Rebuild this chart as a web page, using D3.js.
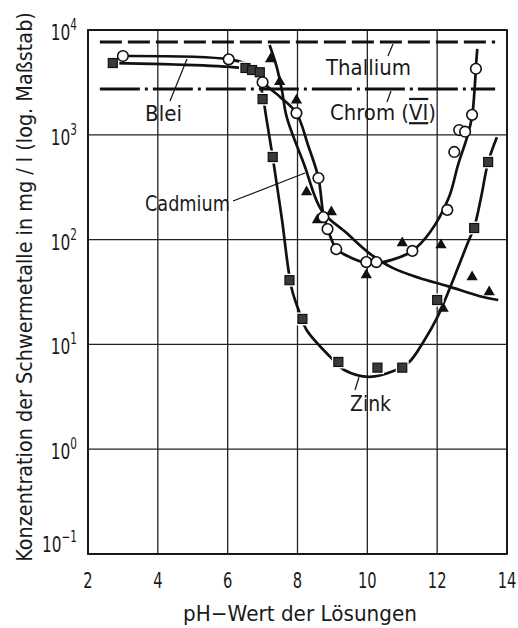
<!DOCTYPE html>
<html><head><meta charset="utf-8">
<script src="https://cdn.jsdelivr.net/npm/d3@7"></script>
<style>body{margin:0;background:#fff}svg{display:block}text{font-family:"DejaVu Sans",sans-serif;fill:#1a1a1a}</style>
</head><body><svg id="c" width="518" height="628"></svg>
<script>
// ---- data (pH, concentration mg/l) ----
const xTicks = [2,4,6,8,10,12,14];
const yTicks = [0.1,1,10,100,1000,10000];
const yTickExp = ["−1","0","1","2","3","4"];

const bleiPoints = [[3,5650],[6.03,5250],[7.0,3170],[7.97,1610],[8.6,387],[8.74,164],[8.86,126],[9.11,81],[9.97,61],[10.26,61],[11.29,78],[12.29,192],[12.49,686],[12.63,1110],[12.8,1070],[13.0,1550],[13.11,4270]];
const bleiCurve = [[3,5650],[6.03,5250],[6.6,4600],[7.0,3170],[7.5,2300],[7.97,1610],[8.3,800],[8.6,387],[8.74,175],[8.86,128],[9.11,82],[9.5,68],[10.1,59],[10.7,64],[11.29,78],[11.8,118],[12.34,255],[12.6,520],[12.86,955],[13.0,1500],[13.08,3000],[13.12,5000],[13.15,6600]];

const cadmiumPoints = [[7.23,5300],[7.49,3200],[7.97,2140],[8.26,284],[8.57,154],[8.97,183],[9.97,46],[11.0,93],[12.11,89],[12.17,22],[13.0,44],[13.49,31.6]];
const cadmiumCurve = [[7.2,7200],[7.4,4500],[7.55,2700],[7.69,1480],[8.2,510],[8.69,190],[9.4,116],[10.06,74],[10.71,54],[11.49,43],[12.3,36],[13.2,29],[13.75,26.5]];

const zinkPoints = [[2.71,4840],[6.51,4340],[6.7,4150],[6.92,3950],[7.0,2190],[7.29,614],[7.77,41],[8.14,17.5],[9.17,6.8],[10.29,6.0],[11.0,6.0],[12.0,26.5],[13.06,129],[13.46,550]];
const zinkCurve = [[2.71,4840],[6.51,4300],[6.8,4000],[6.98,2600],[7.1,1500],[7.29,614],[7.55,160],[7.83,34.5],[8.06,20],[8.26,13.7],[8.97,7.4],[9.34,5.7],[10.06,4.9],[10.71,5.5],[11.2,6.8],[11.6,10.5],[12.0,18],[12.29,30],[12.91,99],[13.06,130],[13.26,255],[13.46,550],[13.71,950]];

const thalliumLevel = 7670, thalliumRange = [2.34,13.66];
const chromLevel = 2735, chromRange = [2.34,13.66];

// ---- layout ----
const svg = d3.select("#c");
const L=88,R=507,T=30,B=554;
const x = d3.scaleLinear().domain([2,14]).range([L,R]);
const y = d3.scaleLog().domain([0.1,1e4]).range([B,T]);

// grid
const g = svg.append("g");
g.selectAll(".vg").data(xTicks).join("line")
  .attr("x1",d=>x(d)).attr("x2",d=>x(d)).attr("y1",T).attr("y2",B)
  .attr("stroke","#222").attr("stroke-width",1.3);
g.selectAll(".hg").data(yTicks).join("line")
  .attr("x1",L).attr("x2",R).attr("y1",d=>y(d)).attr("y2",d=>y(d))
  .attr("stroke","#222").attr("stroke-width",1.3);
g.append("rect").attr("x",L).attr("y",T).attr("width",R-L).attr("height",B-T)
  .attr("fill","none").attr("stroke","#111").attr("stroke-width",1.8);

// text helper: horizontally condensed text fitted to a target width
function label(px,py,parts,size,width,anchor,rot){
  const gg = svg.append("g");
  const inner = gg.append("g");
  const t = inner.append("text").attr("font-size",size).attr("text-anchor",anchor||"start");
  parts.forEach(p=>{
    const ts = t.append("tspan").text(p.t);
    if(p.size) ts.attr("font-size",p.size);
    if(p.dy) ts.attr("dy",p.dy);
    if(p.deco) ts.style("text-decoration",p.deco);
  });
  const w = t.node().getComputedTextLength();
  const sx = width ? width / w : 0.7;
  gg.attr("transform",`translate(${px},${py})${rot?` rotate(${rot})`:""}`);
  inner.attr("transform",`scale(${sx},1)`);
  return t;
}

// x tick labels
xTicks.forEach(d=>label(x(d),588,[{t:String(d)}],21,null,"middle"));
// y tick labels
yTicks.forEach((d,i)=>{
  const base = i===0 ? y(d)-2 : y(d)+10;
  label(77,base,[{t:"10"},{t:yTickExp[i],size:15,dy:-10}],22,null,"end");
});

// axis titles
label(300,621,[{t:"pH−Wert der Lösungen"}],22,234,"middle");
label(32,287,[{t:"Konzentration der Schwermetalle in mg / l (log. Maßstab)"}],21,550,"middle",-90);

// reference lines
svg.append("line").attr("x1",x(thalliumRange[0])).attr("x2",x(thalliumRange[1]))
  .attr("y1",y(thalliumLevel)).attr("y2",y(thalliumLevel))
  .attr("stroke","#111").attr("stroke-width",3).attr("stroke-dasharray","22,6");
svg.append("line").attr("x1",x(chromRange[0])).attr("x2",x(chromRange[1]))
  .attr("y1",y(chromLevel)).attr("y2",y(chromLevel))
  .attr("stroke","#111").attr("stroke-width",3).attr("stroke-dasharray","40,5,3,5");

// curves
const line = d3.line().x(d=>x(d[0])).y(d=>y(d[1])).curve(d3.curveCatmullRom.alpha(0.5));
[zinkCurve,cadmiumCurve,bleiCurve].forEach(c=>{
  svg.append("path").attr("d",line(c)).attr("fill","none").attr("stroke","#111")
    .attr("stroke-width",2.7).attr("stroke-linejoin","round");
});

// markers
svg.selectAll(".zh").data(zinkPoints).join("rect")
  .attr("x",d=>x(d[0])-6.5).attr("y",d=>y(d[1])-6.5).attr("width",13).attr("height",13).attr("fill","#fff");
svg.selectAll(".z").data(zinkPoints).join("rect")
  .attr("x",d=>x(d[0])-4.5).attr("y",d=>y(d[1])-4.5).attr("width",9).attr("height",9)
  .attr("fill","#3a3a3a").attr("stroke","#111").attr("stroke-width",1.2);
svg.selectAll(".cd").data(cadmiumPoints).join("path")
  .attr("d",d3.symbol(d3.symbolTriangle,55))
  .attr("transform",d=>`translate(${x(d[0])},${y(d[1])})`).attr("fill","#111");
svg.selectAll(".pb").data(bleiPoints).join("circle")
  .attr("cx",d=>x(d[0])).attr("cy",d=>y(d[1])).attr("r",5.3)
  .attr("fill","#fff").attr("stroke","#111").attr("stroke-width",1.6);

// series labels + leader lines
function leader(x1,y1,x2,y2){svg.append("line").attr("x1",x1).attr("y1",y1).attr("x2",x2).attr("y2",y2).attr("stroke","#111").attr("stroke-width",1.2);}
label(145,121,[{t:"Blei"}],22,37,"start");
leader(170,101,187,59);
label(145,211,[{t:"Cadmium"}],22,85,"start");
leader(233,201,305,173);
label(326,75,[{t:"Thallium"}],22,85,"start");
leader(393,44,388,56);
label(330,120,[{t:"Chrom ("},{t:"VI",deco:"overline underline"},{t:")"}],22,106,"start");
leader(391,91,387,102);
label(350,411,[{t:"Zink"}],22,41,"start");
leader(355,390,359,377);
</script></body></html>
